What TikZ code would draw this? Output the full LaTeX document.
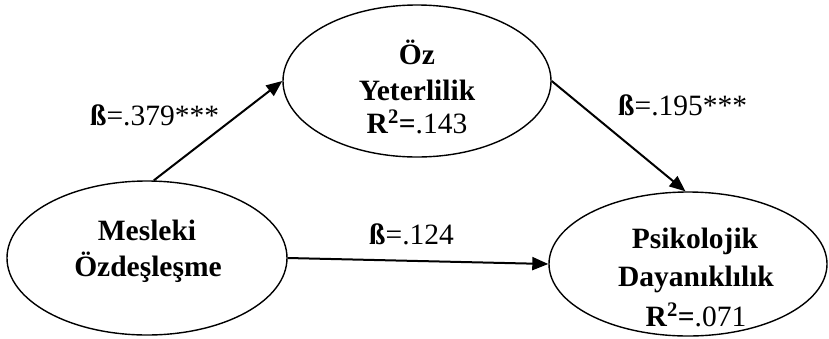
\documentclass[tikz,border=0pt]{standalone}
\usepackage{fontspec}
\setmainfont{Liberation Serif}
\usetikzlibrary{arrows.meta,shapes.geometric}
\tikzset{
  var/.style={draw=black, line width=1.4pt, shape=ellipse, inner sep=0pt},
  txt/.style={anchor=base, inner sep=0pt, font=\fontsize{29.5}{32}\selectfont\bfseries},
  lbl/.style={anchor=base west, inner sep=0pt, font=\fontsize{29.5}{32}\selectfont},
  path/.style={draw=black, line width=2pt, -{Triangle[length=16pt,width=13pt]}}
}
\newcommand{\rsq}[1]{\textbf{R\textsuperscript{2}}=#1}
\begin{document}
\begin{tikzpicture}[x=1pt,y=-1pt]
\useasboundingbox (0,0) rectangle (829,338);
% ellipses
\node[var, minimum width=280pt, minimum height=154pt] (m) at (147,258) {};
\node[var, minimum width=268pt, minimum height=152pt] (o) at (417,81) {};
\node[var, minimum width=278pt, minimum height=144pt] (p) at (688,264) {};
% texts
\node[txt] (m1) at (147,240) {Mesleki};
\node[txt] (m2) at (148,276) {Özdeşleşme};
\node[txt] (o1) at (417,64) {Öz};
\node[txt] (o2) at (417,100) {Yeterlilik};
\node[txt] (o3) at (417,133) {\rsq{\mdseries.143}};
\node[txt] (p1) at (695,248) {Psikolojik};
\node[txt] (p2) at (696,286) {Dayanıklılık};
\node[txt] (p3) at (696,326) {\rsq{\mdseries.071}};
% connectors
\draw[path] (m.85) -- (o.west);
\draw[path] (o.east) -- (p.92);
\draw[path] (m.east) -- (p.west);
% labels
\node[lbl] (b1) at (90,125) {\textbf{ß}=.379***};
\node[lbl] (b2) at (618,115) {\textbf{ß}=.195***};
\node[lbl] (b3) at (369,244) {\textbf{ß}=.124};
\end{tikzpicture}
\end{document}
